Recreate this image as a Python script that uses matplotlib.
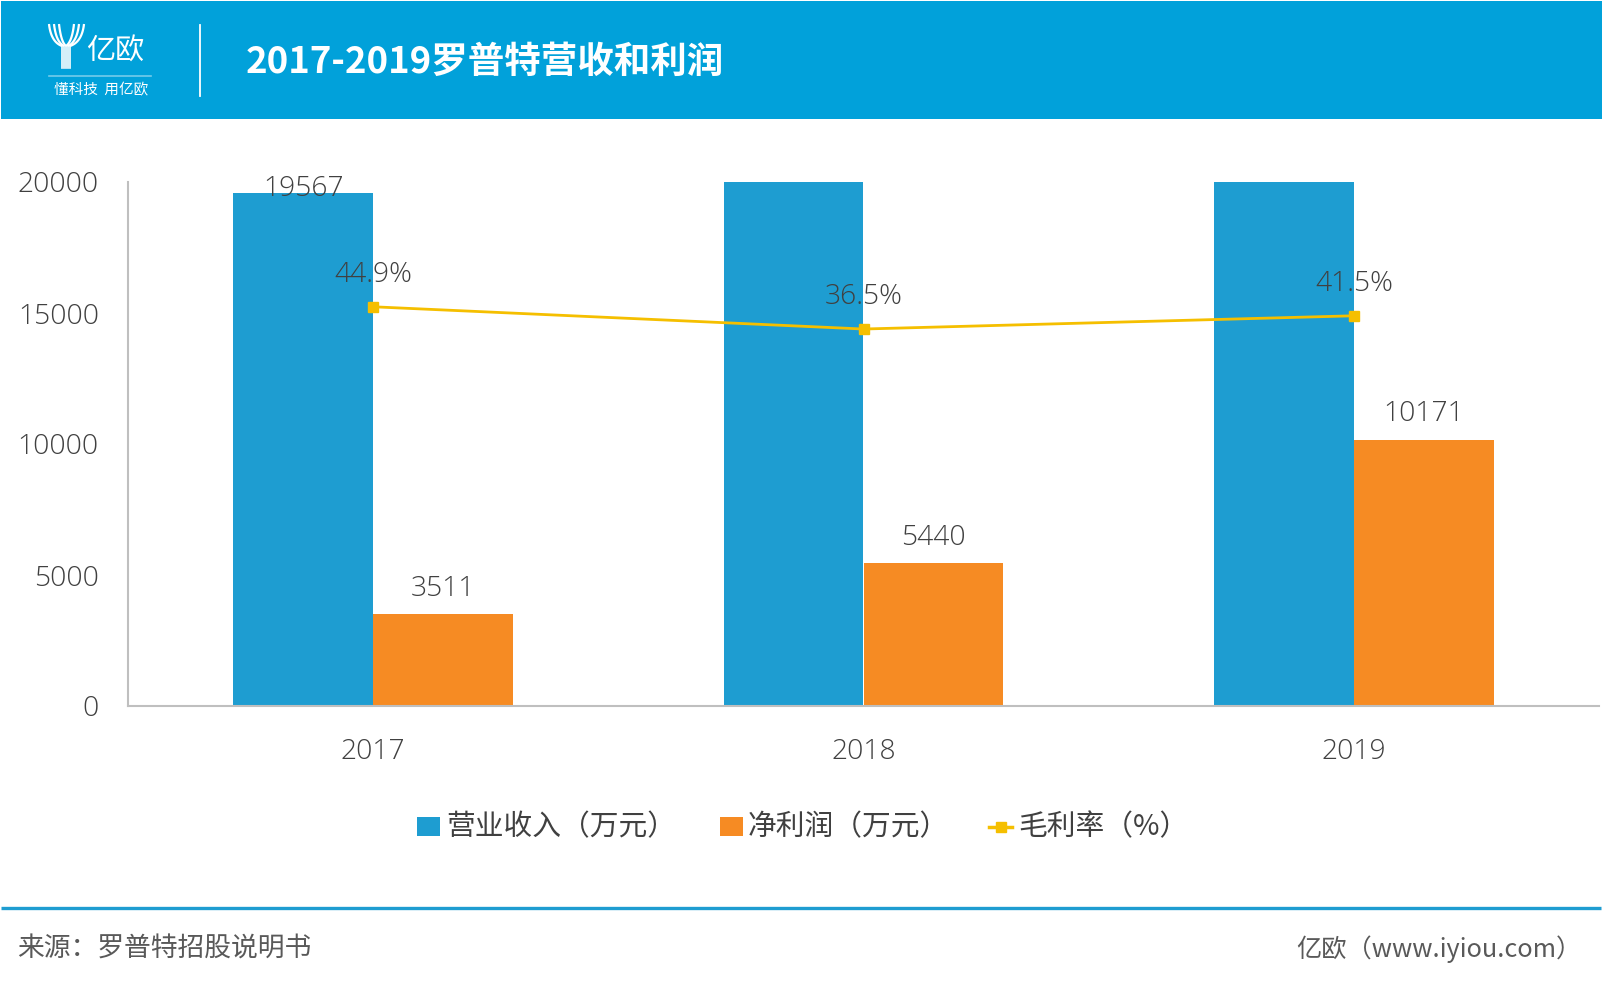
import numpy as np
import matplotlib.pyplot as plt
from matplotlib.patches import Rectangle

# --- data ---
years = ['2017', '2018', '2019']
revenue = [19567, 40749, 51921]      # 2018/2019 run off the top of the chart
net_profit = [3511, 5440, 10171]
gross_margin = [44.9, 36.5, 41.5]
yticks = [0, 5000, 10000, 15000, 20000]

title = '2017-2019罗普特营收和利润'
legend_labels = ['营业收入（万元）', '净利润（万元）', '毛利率（%）']
source = '来源：罗普特招股说明书'
credit = '亿欧（www.iyiou.com）'

# --- style ---
BLUE = '#1E9DD1'
ORANGE = '#F68B23'
YELLOW = '#F5BF00'
HEADER = '#01A1DA'
TXT = '#404040'
W, H = 1603, 986
NUM_FONT = ['Open Sans', 'Noto Sans CJK SC']
CJK_FONT = ['Noto Sans CJK SC', 'DejaVu Sans']

plt.rcParams['font.family'] = NUM_FONT

fig = plt.figure(figsize=(W / 100, H / 100), dpi=100)

# background layer in pixel coordinates for header / footer decorations
bg = fig.add_axes([0, 0, 1, 1], zorder=-1)
bg.set_xlim(0, W)
bg.set_ylim(H, 0)
bg.axis('off')

bg.add_patch(Rectangle((1, 1), W - 2, 118, color=HEADER, lw=0))

# logo: a stylised Y made of curved strokes
t = np.linspace(0, 1, 30)
for off in [0, 5, 10]:
    x0, y0 = 49 + off, 24
    x2, y2 = 62 + off * 0.4, 46
    xs = (1 - t) ** 2 * x0 + 2 * (1 - t) * t * (x0 + 2) + t ** 2 * x2
    ys = (1 - t) ** 2 * y0 + 2 * (1 - t) * t * (y2 - 4) + t ** 2 * y2
    bg.plot(xs, ys, color='white', lw=1.6, solid_capstyle='butt')
    x0r = 84 - off
    x2r = 70 - off * 0.4
    xs = (1 - t) ** 2 * x0r + 2 * (1 - t) * t * (x0r - 2) + t ** 2 * x2r
    bg.plot(xs, ys, color='white', lw=1.6, solid_capstyle='butt')
for sx in [62, 64, 66, 68, 70]:
    bg.plot([sx, sx], [46, 68], color='white', lw=1.2)
bg.text(86, 52, '亿欧', color='white', fontsize=21, family=CJK_FONT,
        fontweight='light', va='center', ha='left')
bg.plot([49, 151], [76, 76], color='white', lw=1.2, alpha=0.45)
bg.text(101, 90, '懂科技  用亿欧', color='white', fontsize=10.5,
        family=CJK_FONT, va='center', ha='center')
bg.plot([200, 200], [25, 96], color='white', lw=1.3)
bg.text(246, 62, title, color='white', fontsize=26.3, family=CJK_FONT,
        fontweight='bold', va='center', ha='left')

# footer
bg.plot([1, W - 2], [908, 908], color=BLUE, lw=2.4, solid_capstyle='butt')
bg.text(17, 949, source, color='#595959', fontsize=19.3, family=CJK_FONT,
        fontweight='light', va='center', ha='left')
bg.text(1581, 949, credit, color='#595959', fontsize=18.2, family=CJK_FONT,
        fontweight='light', va='center', ha='right')

# legend drawn by hand to match spacing
ly = 827
bg.add_patch(Rectangle((417, ly - 10), 23, 19, color=BLUE, lw=0))
bg.text(446, ly, legend_labels[0], color=TXT, fontsize=20.7, family=CJK_FONT,
        fontweight='light', va='center', ha='left')
bg.add_patch(Rectangle((720, ly - 10), 23, 19, color=ORANGE, lw=0))
bg.text(748, ly, legend_labels[1], color=TXT, fontsize=20.7, family=CJK_FONT,
        fontweight='light', va='center', ha='left')
bg.plot([989, 1012], [ly, ly], color=YELLOW, lw=2.5)
bg.plot([1000.5], [ly], color=YELLOW, marker='s', markersize=6.5)
bg.text(1018, ly, legend_labels[2], color=TXT, fontsize=20.7, family=CJK_FONT,
        fontweight='light', va='center', ha='left')

# --- main chart ---
ax = fig.add_axes([128 / W, 1 - 706 / H, (1599 - 128) / W, (706 - 182) / H])
ax.set_facecolor('none')
x = np.arange(len(years))
bw = 0.2854
ax.bar(x - bw / 2, revenue, bw, color=BLUE, zorder=2)
ax.bar(x + bw / 2, net_profit, bw, color=ORANGE, zorder=2)
ax.set_xlim(-0.5, 2.5)
ax.set_ylim(0, 20000)
ax.set_yticks(yticks)
ax.set_yticklabels([str(v) for v in yticks])
ax.set_xticks(x)
ax.set_xticklabels(years)
ax.tick_params(axis='y', length=0, pad=21, labelsize=20.3, labelcolor=TXT)
ax.tick_params(axis='x', length=0, pad=23, labelsize=20.3, labelcolor=TXT)
for lab in ax.get_xticklabels() + ax.get_yticklabels():
    lab.set_fontweight('light')
for s in ['top', 'right']:
    ax.spines[s].set_visible(False)
ax.spines['left'].set_color('#BFBFBF')
ax.spines['left'].set_linewidth(1.5)
ax.spines['bottom'].set_color('#BFBFBF')
ax.spines['bottom'].set_linewidth(1.5)

# bar value labels (Excel-like: clamp near top, hide if bar out of range)
ymax = 20000
lab_off = 960
for xs_, vals in [(x - bw / 2, revenue), (x + bw / 2, net_profit)]:
    for xi, v in zip(xs_, vals):
        if v > ymax:
            continue
        yl = min(v + lab_off, ymax - 250)
        ax.text(xi, yl, str(v), ha='center', va='center', fontsize=20.3,
                color=TXT, fontweight='light', zorder=4, clip_on=False)

# gross margin line on hidden secondary axis
ax2 = ax.twinx()
ax2.plot(x, gross_margin, color=YELLOW, lw=2, marker='s', markersize=6.5, zorder=3)
ax2.set_ylim(-105.8, 92)
ax2.axis('off')
for xi, m in zip(x, gross_margin):
    ax2.annotate(f'{m}%', (xi, m), xytext=(0, 22.8), textcoords='offset points',
                 ha='center', va='center', fontsize=20.3, color=TXT, fontweight='light')

fig.savefig('out.png', dpi=100)
